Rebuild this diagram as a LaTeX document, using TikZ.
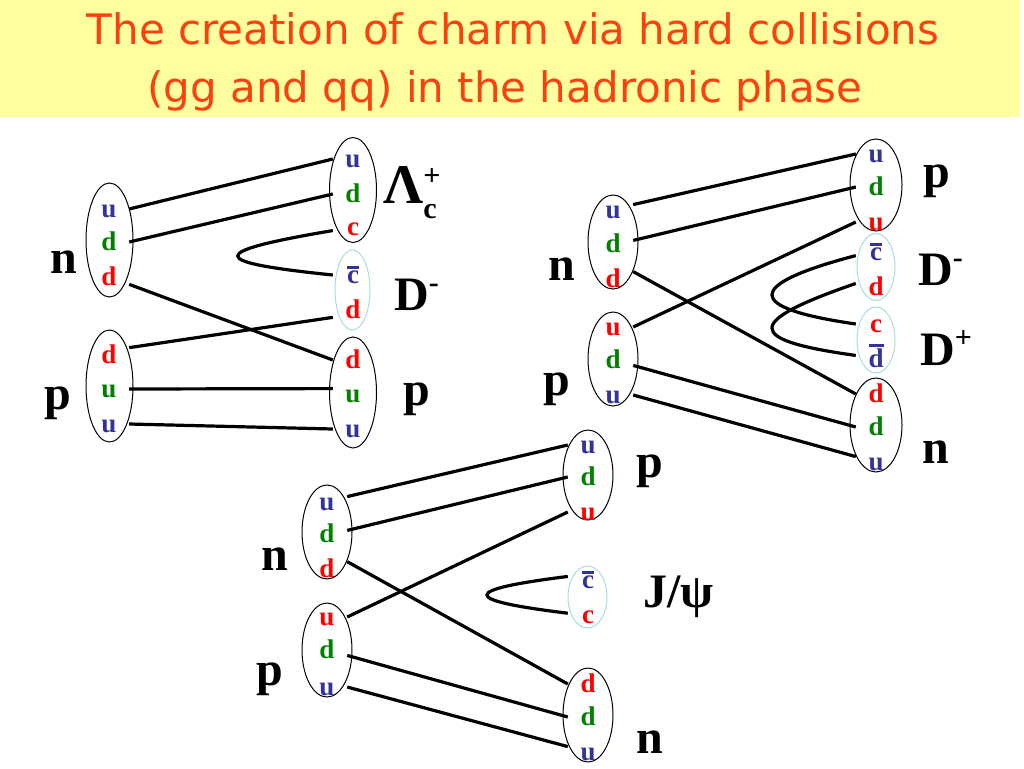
\documentclass[tikz,border=0pt]{standalone}
\usepackage{fontspec}
\setmainfont{Liberation Serif}
\newfontfamily\titlefont{DejaVu Sans}
\usetikzlibrary{shapes.geometric}
\definecolor{qblue}{RGB}{51,51,153}
\definecolor{qgreen}{RGB}{0,128,0}
\definecolor{qred}{RGB}{255,0,0}
\definecolor{titlered}{RGB}{250,65,15}
\definecolor{band}{RGB}{255,255,160}
\definecolor{mesonline}{RGB}{170,220,225}
\tikzset{%
  baryon/.style={ellipse,draw,line width=1pt,minimum width=50pt,minimum height=94pt,inner sep=0pt},
  meson/.style={ellipse,draw=mesonline,line width=1pt,minimum width=38pt,minimum height=66pt,inner sep=0pt},
  quark/.style={text=#1,font=\bfseries\fontsize{27}{27}\selectfont,minimum width=40pt,minimum height=28pt,
    text height=17pt,text depth=0pt,inner sep=0pt},
  quark/.default=qblue,
  hadron/.style={font=\bfseries\fontsize{48}{48}\selectfont,inner sep=0pt},
  string/.style={line width=3.2pt}
}
\newsavebox\qbox
\NewDocumentCommand\anti{m}{%
  \sbox\qbox{#1}\rlap{\rule[\dimexpr\ht\qbox+2pt\relax]{\wd\qbox}{3pt}}\usebox\qbox}
\NewDocumentCommand\hsup{m}{\raisebox{18pt}{\fontsize{30}{30}\selectfont #1}}
\NewDocumentCommand\lamc{}{%
  Λ\rlap{\raisebox{-15pt}{\fontsize{30}{30}\selectfont c}}\hsup{+}}

\begin{document}
\begin{tikzpicture}[x=1pt,y=-1pt]
  \fill[white] (0,0) rectangle (1024,768);
  \fill[band] (0,0) rectangle (1020,117);
  \node[anchor=base,text=titlered,font=\titlefont\fontsize{42}{42}\selectfont,inner sep=0pt] (title1) at (513,45)
    {The creation of charm via hard collisions};
  \node[anchor=base,text=titlered,font=\titlefont\fontsize{42}{42}\selectfont,inner sep=0pt] (title2) at (505,102)
    {(gg and qq) in the hadronic phase};
  %% n p -> Lambda_c D- p
  \node[baryon,minimum width=47pt,minimum height=114pt] (na) at (109.5,240) {};
  \node[baryon,minimum width=47pt,minimum height=112pt] (pa) at (109.5,386) {};
  \node[baryon,minimum width=47pt,minimum height=105pt] (la) at (353,190) {};
  \node[meson,minimum width=35pt,minimum height=80pt] (dma) at (352.5,290) {};
  \node[baryon,minimum width=47pt,minimum height=111pt] (pra) at (353,392.5) {};
  \node[quark=qblue] (na1) at (109,209) {u};
  \node[quark=qgreen] (na2) at (109,242) {d};
  \node[quark=qred] (na3) at (109,277) {d};
  \node[quark=qred] (pa1) at (109,355) {d};
  \node[quark=qgreen] (pa2) at (109,389) {u};
  \node[quark=qblue] (pa3) at (109,424) {u};
  \node[quark=qblue] (la1) at (353,159) {u};
  \node[quark=qgreen] (la2) at (353,194) {d};
  \node[quark=qred] (la3) at (353,227) {c};
  \node[quark=qblue] (dma1) at (353,275) {\anti{c}};
  \node[quark=qred] (dma2) at (353,310) {d};
  \node[quark=qred] (pra1) at (353,360) {d};
  \node[quark=qgreen] (pra2) at (353,394) {u};
  \node[quark=qblue] (pra3) at (353,429) {u};
  \node[hadron,anchor=base] (na0) at (64,273) {n};
  \node[hadron,anchor=base] (pa0) at (58,409) {p};
  \node[hadron,anchor=base west] (la0) at (383,203) {\fontsize{56}{56}\selectfont\lamc};
  \node[hadron,anchor=base west] (dma0) at (394,310) {D\hsup{-}};
  \node[hadron,anchor=base] (pra0) at (417,405) {p};
  \draw[string] (na1.east) -- (la1.west);
  \draw[string] (na2.east) -- (la2.west);
  \draw[string] (na3.-20) -- (pra1.west);
  \draw[string] (pa1.20) -- (dma2.-160);
  \draw[string] (pa2.east) -- (pra2.165);
  \draw[string] (pa3.east) -- (pra3.west);
  \draw[string] (la3.190) .. controls (206,252) and (206,262) .. (dma1.west);
  %% n p -> p D- D+ n
  \node[baryon] (nb) at (613,242) {};
  \node[baryon] (pb) at (613,359) {};
  \node[baryon,minimum width=52pt,minimum height=92pt] (prb) at (876,185) {};
  \node[meson,minimum height=67pt] (dmb) at (876,267) {};
  \node[meson] (dpb) at (876,340) {};
  \node[baryon,minimum width=52pt] (nrb) at (876,425) {};
  \node[quark=qblue] (nb1) at (613,210) {u};
  \node[quark=qgreen] (nb2) at (613,244) {d};
  \node[quark=qred] (nb3) at (613,279) {d};
  \node[quark=qred] (pb1) at (613,327) {u};
  \node[quark=qgreen] (pb2) at (613,360) {d};
  \node[quark=qblue] (pb3) at (613,395) {u};
  \node[quark=qblue] (prb1) at (876,154) {u};
  \node[quark=qgreen] (prb2) at (876,187) {d};
  \node[quark=qred] (prb3) at (876,222) {u};
  \node[quark=qblue] (dmb1) at (876,252) {\anti{c}};
  \node[quark=qred] (dmb2) at (876,287) {d};
  \node[quark=qred] (dpb1) at (876,324) {c};
  \node[quark=qblue] (dpb2) at (876,359) {\anti{d}};
  \node[quark=qred] (nrb1) at (876,394) {d};
  \node[quark=qgreen] (nrb2) at (876,427) {d};
  \node[quark=qblue] (nrb3) at (876,462) {u};
  \node[hadron,anchor=base] (nb0) at (562,280) {n};
  \node[hadron,anchor=base] (pb0) at (557,395) {p};
  \node[hadron,anchor=base] (prb0) at (937,187) {p};
  \node[hadron,anchor=base west] (dmb0) at (918,285) {D\hsup{-}};
  \node[hadron,anchor=base west] (dpb0) at (920,365) {D\hsup{+}};
  \node[hadron,anchor=base] (nrb0) at (936,463) {n};
  \draw[string] (nb1.15) -- (prb1.west);
  \draw[string] (nb2.10) -- (prb2.west);
  \draw[string] (nb3.20) -- (nrb1.west);
  \draw[string] (pb1.east) -- (prb3.west);
  \draw[string] (pb2.-15) -- (nrb2.west);
  \draw[string] (pb3.east) -- (nrb3.165);
  \draw[string] (dmb1.190) .. controls (744,285) and (744,308) .. (dpb1.west);
  \draw[string] (dmb2.170) .. controls (744,322) and (744,340) .. (dpb2.170);
  %% n p -> p J/psi n
  \node[baryon] (nc) at (327,532) {};
  \node[baryon] (pc) at (327,650) {};
  \node[baryon,minimum height=90pt] (prc) at (588,475) {};
  \node[meson,minimum width=39pt,minimum height=62pt] (jc) at (587.5,597) {};
  \node[baryon] (nrc) at (588,715) {};
  \node[quark=qblue] (nc1) at (327,502) {u};
  \node[quark=qgreen] (nc2) at (327,534) {d};
  \node[quark=qred] (nc3) at (327,569) {d};
  \node[quark=qred] (pc1) at (327,617) {u};
  \node[quark=qgreen] (pc2) at (327,650) {d};
  \node[quark=qblue] (pc3) at (327,687) {u};
  \node[quark=qblue] (prc1) at (588,445) {u};
  \node[quark=qgreen] (prc2) at (588,477) {d};
  \node[quark=qred] (prc3) at (588,512) {u};
  \node[quark=qblue] (jc1) at (588,580) {\anti{c}};
  \node[quark=qred] (jc2) at (588,615) {c};
  \node[quark=qred] (nrc1) at (588,684) {d};
  \node[quark=qgreen] (nrc2) at (588,717) {d};
  \node[quark=qblue] (nrc3) at (588,752) {u};
  \node[hadron,anchor=base] (nc0) at (275,570) {n};
  \node[hadron,anchor=base] (pc0) at (270,685) {p};
  \node[hadron,anchor=base] (prc0) at (650,477) {p};
  \node[hadron,anchor=base west] (jc0) at (643,607) {J/ψ};
  \node[hadron,anchor=base] (nrc0) at (650,753) {n};
  \draw[string] (nc1.15) -- (prc1.west);
  \draw[string] (nc2.10) -- (prc2.west);
  \draw[string] (nc3.20) -- (nrc1.west);
  \draw[string] (pc1.east) -- (prc3.west);
  \draw[string] (pc2.-15) -- (nrc2.west);
  \draw[string] (pc3.east) -- (nrc3.165);
  \draw[string] (jc1.170) .. controls (460,590) and (460,600) .. (jc2.175);
\end{tikzpicture}
\end{document}
